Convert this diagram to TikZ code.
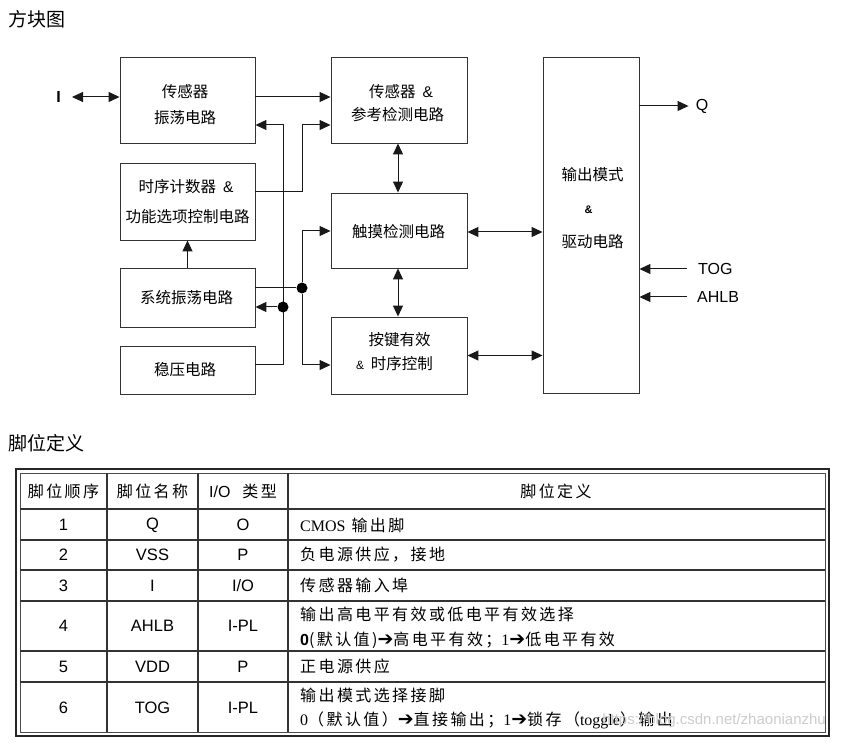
\documentclass[tikz,border=0pt]{standalone}
\usepackage{fontspec}
\setmainfont{Liberation Sans}
\newfontfamily\cjk{Noto Sans CJK SC}
\newfontfamily\cjkt{Noto Sans CJK SC}[LetterSpace=15]
\newfontfamily\lat{Liberation Sans}
\newfontfamily\serf{Liberation Serif}
\newfontfamily\symf{DejaVu Sans}
\newcommand\harr{{\symf\fontsize{19}{16}\selectfont ➔}}
\usetikzlibrary{arrows.meta}
\tikzset{
  box/.style={draw=black!80, line width=0.9pt, inner sep=0pt},
  btxt/.style={inner sep=0pt, align=center, font=\cjk\fontsize{15.5}{25}\selectfont},
  wire/.style={draw=black!90, line width=1pt},
  arr/.style={wire, -{Triangle[length=11pt,width=10pt]}},
  darr/.style={wire, {Triangle[length=11pt,width=10pt]}-{Triangle[length=11pt,width=10pt]}},
  pin/.style={inner sep=0pt, font=\lat\fontsize{16}{16}\selectfont},
  jdot/.style={circle, fill=black, inner sep=0pt, minimum size=11pt},
  ttl/.style={inner sep=0pt, anchor=west, font=\cjk\fontsize{19}{19}\selectfont},
  tc/.style={inner sep=0pt, font=\cjkt\fontsize{16}{16}\selectfont},
  tl/.style={inner sep=0pt, font=\lat\fontsize{16.5}{16.5}\selectfont},
  td/.style={inner sep=0pt, anchor=west, font=\cjkt\fontsize{16}{16}\selectfont},
  outerb/.style={draw=black!85, line width=2pt},
  innerb/.style={draw=black!70, line width=0.8pt},
  gridl/.style={draw=black!80, line width=1.2pt},
}
\begin{document}
\begin{tikzpicture}[x=1pt,y=-1pt]
\useasboundingbox (0,0) rectangle (849,743);
\fill[white] (0,0) rectangle (849,743);

% titles
\node[ttl] (t1) at (8,19) {方块图};
\node[ttl] (t2) at (8,443) {脚位定义};

% boxes
\node[box, minimum width=135pt, minimum height=86pt] (sosc) at (187.5,100) {};
\node[box, minimum width=135pt, minimum height=77pt] (timer) at (187.5,201.5) {};
\node[box, minimum width=135pt, minimum height=59pt] (sysosc) at (187.5,297.5) {};
\node[box, minimum width=135pt, minimum height=48pt] (reg) at (187.5,370) {};
\node[box, minimum width=136pt, minimum height=86pt] (sref) at (399,100) {};
\node[box, minimum width=136pt, minimum height=75pt] (touch) at (399,230.5) {};
\node[box, minimum width=136pt, minimum height=77pt] (key) at (399,355.5) {};
\node[box, minimum width=96pt, minimum height=336pt] (out) at (591,225) {};

% box texts
\node[btxt] (sosc1) at (185,91.5) {传感器};
\node[btxt] (sosc2) at (185,117.5) {振荡电路};
\node[btxt] (timer1) at (186,187) {时序计数器\ \ {\lat\&}};
\node[btxt] (timer2) at (187.5,217) {功能选项控制电路};
\node[btxt] (sys1) at (186.5,298) {系统振荡电路};
\node[btxt] (reg1) at (185,370) {稳压电路};
\node[btxt] (sref1) at (401,91.5) {传感器\ \ {\lat\&}};
\node[btxt] (sref2) at (397.5,115) {参考检测电路};
\node[btxt] (touch1) at (398.5,232) {触摸检测电路};
\node[btxt] (key1) at (399.5,340) {按键有效};
\node[btxt] (key2) at (394.5,364) {{\lat\fontsize{12}{12}\selectfont\&}\ \ 时序控制};
\node[btxt] (out1) at (592.5,175) {输出模式};
\node[btxt] (out2) at (588.5,210) {{\lat\bfseries\fontsize{11}{11}\selectfont\&}};
\node[btxt] (out3) at (592.5,242) {驱动电路};

% pins
\node[pin] (I) at (58.5,97) {\textbf{I}};
\node[pin] (Q) at (702,106) {Q};
\node[pin, anchor=west] (TOG) at (698,269) {TOG};
\node[pin, anchor=west] (AHLB) at (697,297) {AHLB};

% junctions
\coordinate (v1t) at (283,125);
\coordinate (v1b) at (283,365);
\coordinate (v2a) at (302,192);
\coordinate (v2b) at (302,125);
\coordinate (v3t) at (302,231);
\coordinate (v3b) at (302,365);
\coordinate (Iend) at (72,97);
\coordinate (tcon) at ([yshift=-1.5pt]touch.east);

% connectors
\draw[darr] (Iend) -- ([yshift=3pt]sosc.west);
\draw[arr] ([yshift=3pt]sosc.east) -- ([yshift=3pt]sref.west);
\draw[arr] ([yshift=5pt]reg.east) -- (v1b) -- (v1t) -- (sosc.east |- v1t);
\draw[arr] ([yshift=9.5pt]timer.east) -- (v2a) -- (v2b) -- (sref.west |- v2b);
\draw[arr] (sysosc.north) -- (timer.south);
\node[jdot] (j1) at (283,307) {};
\node[jdot] (j2) at (302,288) {};
\draw[arr] (j1) -- (sysosc.east |- j1);
\draw[wire] ([yshift=9.5pt]sysosc.east) -- (j2);
\draw[arr] (j2) -- (v3t) -- (touch.west |- v3t);
\draw[arr] (j2) -- (v3b) -- (key.west |- v3b);
\draw[darr] ([xshift=-1pt]sref.south) -- ([xshift=-1pt]touch.north);
\draw[darr] ([xshift=-1pt]touch.south) -- ([xshift=-1pt]key.north);
\draw[darr] (tcon) -- (out.west |- tcon);
\draw[darr] (key.east) -- (out.west |- key.east);
\draw[arr, shorten >=7pt] (out.east |- Q) -- (Q.west);
\draw[arr] ([xshift=-11pt]TOG.west) -- (out.east |- TOG);
\draw[arr] ([xshift=-10pt]AHLB.west) -- (out.east |- AHLB);

% table frame
\draw[outerb] (16,469) rectangle (829,736);
\draw[innerb] (20,473) rectangle (825,732);
\foreach \xx in {107,198,288} \draw[gridl] (\xx,473) -- (\xx,732);
\foreach \yy in {509,540,570,601,651,682} \draw[gridl] (20,\yy) -- (825,\yy);

% header
\node[tc] (h1) at (63.5,491) {脚位顺序};
\node[tc] (h2) at (152.5,491) {脚位名称};
\node[tc] (h3) at (243,491) {{\lat I/O}\ \ 类型};
\node[tc] (h4) at (556,491) {脚位定义};

% column 1
\node[tl] (n1) at (63.5,525) {1};
\node[tl] (n2) at (63.5,555) {2};
\node[tl] (n3) at (63.5,585.5) {3};
\node[tl] (n4) at (63.5,626) {4};
\node[tl] (n5) at (63.5,666.5) {5};
\node[tl] (n6) at (63.5,707.5) {6};
% column 2
\node[tl] (p1) at (152.5,525) {Q};
\node[tl] (p2) at (152.5,555) {VSS};
\node[tl] (p3) at (152.5,585.5) {I};
\node[tl] (p4) at (152.5,626) {AHLB};
\node[tl] (p5) at (152.5,666.5) {VDD};
\node[tl] (p6) at (152.5,707.5) {TOG};
% column 3
\node[tl] (k1) at (243,525) {O};
\node[tl] (k2) at (243,555) {P};
\node[tl] (k3) at (243,585.5) {I/O};
\node[tl] (k4) at (243,626) {I-PL};
\node[tl] (k5) at (243,666.5) {P};
\node[tl] (k6) at (243,707.5) {I-PL};
% column 4
\node[td] (d1) at (300,525) {{\serf CMOS}\ 输出脚};
\node[td] (d2) at (300,555) {负电源供应，接地};
\node[td] (d3) at (300,585.5) {传感器输入埠};
\node[td] (d4a) at (300,614) {输出高电平有效或低电平有效选择};
\node[td] (d4b) at (300,640) {{\lat\bfseries 0}(默认值)\harr 高电平有效；{\serf 1}\harr 低电平有效};
\node[td] (d5) at (300,666.5) {正电源供应};
\node[td] (d6a) at (300,695) {输出模式选择接脚};
\node[td] (d6b) at (300,720) {{\serf 0}（默认值）\harr 直接输出；{\serf 1}\harr 锁存（{\serf toggle}）输出};

% watermark
\node[inner sep=0pt, anchor=east, font=\lat\fontsize{15}{15}\selectfont, text=black!20] (wm) at (826,721) {https://blog.csdn.net/zhaonianzhu};
\end{tikzpicture}
\end{document}
